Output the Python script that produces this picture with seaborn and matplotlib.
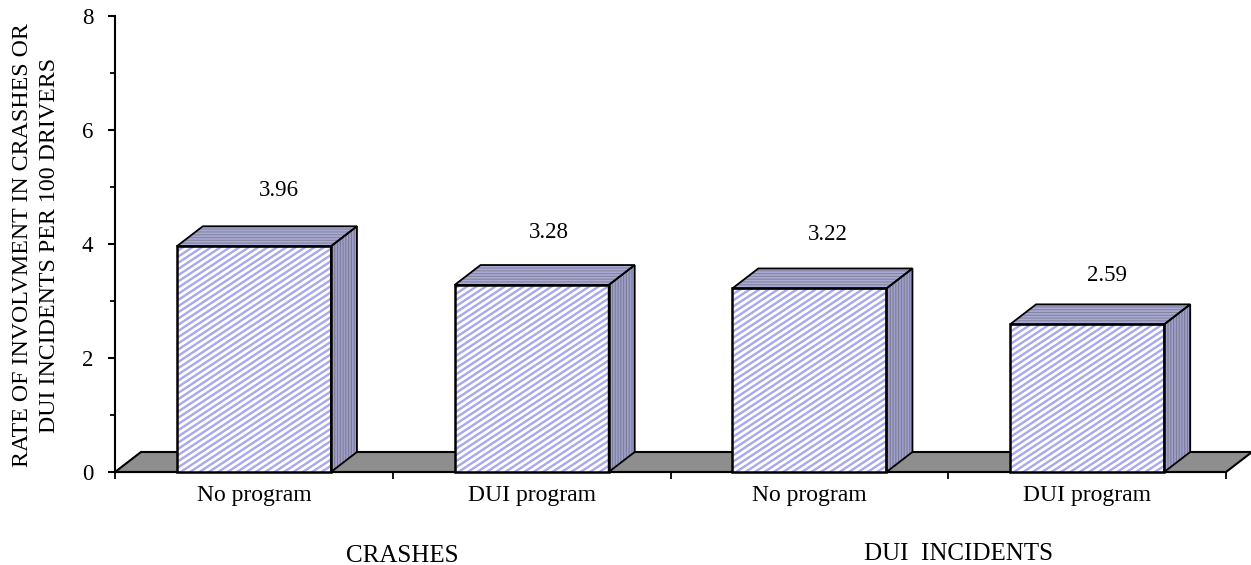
import matplotlib
matplotlib.use('Agg')
import numpy as np
import seaborn as sns
import matplotlib.pyplot as plt
import pandas as pd
from matplotlib.patches import Polygon
from matplotlib.collections import LineCollection

# values
bar_ids = ['crash_none', 'crash_dui', 'inc_none', 'inc_dui']
rates = [3.96, 3.28, 3.22, 2.59]
tick_labels = ['No program', 'DUI program', 'No program', 'DUI program']
group_labels = ['CRASHES', 'DUI  INCIDENTS']
y_title = 'RATE OF INVOLVMENT IN CRASHES OR\nDUI INCIDENTS PER 100 DRIVERS'

W, H = 1251, 565
sns.set_style('white')
plt.rcParams['font.family'] = ['Liberation Serif', 'DejaVu Serif']
plt.rcParams['hatch.linewidth'] = 0.8
plt.rcParams['text.color'] = 'black'
plt.rcParams['xtick.labelcolor'] = 'black'
plt.rcParams['ytick.labelcolor'] = 'black'

df = pd.DataFrame({'bar': bar_ids, 'rate': rates})

fig = plt.figure(figsize=(W / 100, H / 100), dpi=100)
ax = fig.add_axes([115 / W, 1 - 472 / H, (1226 - 115) / W, (472 - 16) / H])
sns.barplot(data=df, x='bar', y='rate', ax=ax, width=0.555, color='white',
            saturation=1, linewidth=0, zorder=3)
ax.set_xlim(-0.5, 3.5)
ax.set_ylim(0, 8)
bars = list(ax.patches)

# depth of the fake 3d, in data units
dx = 26 / 277.75
dy = 20 / 57

# stripes on the bar fronts: shallower than 45 degrees so the built in hatch won't do
stripe_slope = 0.66 * 277.75 / 57
stripe_gap = 6.2 / 57

# floor
floor = Polygon([(-0.5, 0), (3.5, 0), (3.5 + dx, dy), (-0.5 + dx, dy)], closed=True,
                facecolor='#8e8e8e', edgecolor='black', lw=1.5, clip_on=False, zorder=1)
ax.add_patch(floor)

for bar in bars:
    x0 = bar.get_x()
    x1 = x0 + bar.get_width()
    h = bar.get_height()
    starts = np.arange(-stripe_slope * (x1 - x0), h, stripe_gap)
    segs = [[(x0, s), (x1, s + stripe_slope * (x1 - x0))] for s in starts]
    stripes = LineCollection(segs, colors='#a8a8ee', linewidths=1.7, zorder=3.5)
    ax.add_collection(stripes)
    stripes.set_clip_path(bar)
    top = [(x0, h), (x1, h), (x1 + dx, h + dy), (x0 + dx, h + dy)]
    side = [(x1, 0), (x1 + dx, dy), (x1 + dx, h + dy), (x1, h)]
    ax.add_patch(Polygon(top, closed=True, facecolor='#aaaad6', edgecolor='#84849c',
                         hatch='------', lw=0, clip_on=False, zorder=4))
    ax.add_patch(Polygon(side, closed=True, facecolor='#a0a0cc', edgecolor='#7c7c94',
                         hatch='||||||', lw=0, clip_on=False, zorder=4))
    ax.add_patch(Polygon(top, closed=True, fill=False, edgecolor='black', lw=1.3,
                         clip_on=False, zorder=5))
    ax.add_patch(Polygon(side, closed=True, fill=False, edgecolor='black', lw=1.3,
                         clip_on=False, zorder=5))
    ax.add_patch(Polygon([(x0, 0), (x1, 0), (x1, h), (x0, h)], closed=True, fill=False,
                         edgecolor='black', lw=1.8, clip_on=False, zorder=6))

# value labels sit up and to the right of each bar
label_dx = [25, 17, 18, 20]
label_dy = [56, 53, 54, 49]
for i, v in enumerate(rates):
    ax.annotate(f'{v:.2f}', (i, v), xytext=(label_dx[i] * 0.72, label_dy[i] * 0.72),
                textcoords='offset points', ha='center', va='center', fontsize=16.5)

sns.despine(ax=ax)
for s in ['left', 'bottom']:
    ax.spines[s].set_color('black')
    ax.spines[s].set_linewidth(1.5)
    ax.spines[s].set_zorder(2)

ax.set_xlabel('')
ax.set_ylabel('')
ax.set_xticks(range(4))
ax.set_xticklabels(tick_labels, fontsize=17)
ax.set_xticks([-0.5, 0.5, 1.5, 2.5, 3.5], minor=True)
ax.set_yticks([0, 2, 4, 6, 8])
ax.set_yticks([1, 3, 5, 7], minor=True)
ax.tick_params(axis='x', which='major', length=0, pad=9)
ax.tick_params(axis='x', which='minor', bottom=True, length=5, width=1.3, color='black')
ax.tick_params(axis='y', which='major', left=True, length=5, width=1.5, color='black',
               labelsize=16.5, pad=10.5)
ax.tick_params(axis='y', which='minor', left=True, length=3.6, width=1.3, color='black')

fig.text(36 / W, 1 - 245 / H, y_title, rotation=90, ha='center', va='center',
         fontsize=17.2, linespacing=1.38)
fig.text(402 / W, 1 - 556 / H, group_labels[0], ha='center', va='center', fontsize=18)
fig.text(959 / W, 1 - 554 / H, group_labels[1], ha='center', va='center', fontsize=18)

fig.savefig('out.png', dpi=100)
